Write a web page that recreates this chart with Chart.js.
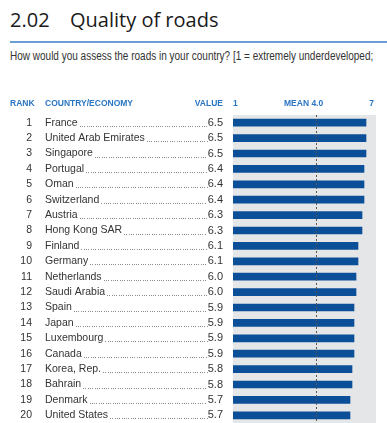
<!DOCTYPE html>
<html>
<head>
<meta charset="utf-8">
<script src="https://cdn.jsdelivr.net/npm/chart.js@4/dist/chart.umd.min.js"></script>
<style>
  body { margin: 0; background: #fff; width: 387px; height: 423px; overflow: hidden; position: relative; }
  #title { position: absolute; left: 10px; top: 6px; font-family: 'Open Sans', sans-serif; font-size: 20px; color: #1a1a1a; white-space: nowrap; }
  #title .num { display: inline-block; width: 60px; }
  #rule { position: absolute; left: 10px; right: 0; top: 41px; height: 2px; background: #6b9fd4; }
  #subtitle { position: absolute; left: 10px; top: 49px; font-family: 'Liberation Sans', sans-serif; font-size: 12.5px; color: #333;
              white-space: nowrap; transform: scaleX(0.8); transform-origin: 0 0; }
  #wrap { position: absolute; left: 0; top: 95px; width: 387px; height: 328px; }
</style>
</head>
<body>
<div id="title"><span class="num">2.02</span>Quality of roads</div>
<div id="rule"></div>
<div id="subtitle">How would you assess the roads in your country? [1 = extremely underdeveloped;</div>
<div id="wrap"><canvas id="chart" width="387" height="328"></canvas></div>
<script>
// data
const ranks = [1, 2, 3, 4, 5, 6, 7, 8, 9, 10, 11, 12, 13, 14, 15, 16, 17, 18, 19, 20];
const countries = ['France', 'United Arab Emirates', 'Singapore', 'Portugal', 'Oman', 'Switzerland',
    'Austria', 'Hong Kong SAR', 'Finland', 'Germany', 'Netherlands', 'Saudi Arabia', 'Spain', 'Japan',
    'Luxembourg', 'Canada', 'Korea, Rep.', 'Bahrain', 'Denmark', 'United States'];
const values = [6.5, 6.5, 6.5, 6.4, 6.4, 6.4, 6.3, 6.3, 6.1, 6.1, 6.0, 6.0, 5.9, 5.9, 5.9, 5.9, 5.8, 5.8, 5.7, 5.7];
const meanValue = 4.0;
const headerLabels = ['RANK', 'COUNTRY/ECONOMY', 'VALUE', '1', 'MEAN 4.0', '7'];

const blue = '#0b4f99';
const headBlue = '#2a76c2';
const panelGray = '#e5e6e8';

// gray panel behind the bars
const panelPlugin = {
    id: 'panel',
    beforeDatasetsDraw(chart) {
        const { ctx, chartArea } = chart;
        ctx.save();
        ctx.fillStyle = panelGray;
        ctx.fillRect(chartArea.left, chartArea.top, chartArea.right - chartArea.left, chartArea.bottom - chartArea.top);
        ctx.restore();
    }
};

// dotted mean line over the bars
const meanPlugin = {
    id: 'meanLine',
    afterDatasetsDraw(chart) {
        const { ctx, chartArea, scales } = chart;
        const x = Math.round(scales.x.getPixelForValue(meanValue)) + 0.5;
        ctx.save();
        ctx.strokeStyle = '#555';
        ctx.lineWidth = 1;
        ctx.setLineDash([2, 2]);
        ctx.beginPath();
        ctx.moveTo(x, chartArea.top);
        ctx.lineTo(x, chartArea.bottom);
        ctx.stroke();
        ctx.restore();
    }
};

// header row + rank / name / dotted leader / value per row
const labelPlugin = {
    id: 'rowLabels',
    afterDraw(chart) {
        const { ctx, scales } = chart;
        ctx.save();

        ctx.font = 'bold 8.5px "Liberation Sans", sans-serif';
        ctx.fillStyle = headBlue;
        ctx.textBaseline = 'middle';
        const hy = 9;
        ctx.textAlign = 'left';
        ctx.fillText(headerLabels[0], 10, hy);
        ctx.fillText(headerLabels[1], 45, hy);
        ctx.textAlign = 'right';
        ctx.fillText(headerLabels[2], 223, hy);
        ctx.textAlign = 'left';
        ctx.fillText(headerLabels[3], 233, hy);
        ctx.fillText(headerLabels[4], 284, hy);
        ctx.textAlign = 'right';
        ctx.fillText(headerLabels[5], 374, hy);

        ctx.fillStyle = '#333';
        countries.forEach((name, i) => {
            const y = scales.y.getPixelForValue(i);
            ctx.font = '10.5px "Liberation Sans", sans-serif';
            ctx.textAlign = 'right';
            ctx.fillText(String(ranks[i]), 32, y);
            ctx.textAlign = 'left';
            ctx.fillText(name, 45, y);
            const nameEnd = 45 + ctx.measureText(name).width;
            ctx.font = '11px "Liberation Sans", sans-serif';
            ctx.textAlign = 'right';
            const valStr = values[i].toFixed(1);
            ctx.fillText(valStr, 223, y);
            const valStart = 223 - ctx.measureText(valStr).width;
            // leader dots
            ctx.fillStyle = '#8a8a8a';
            const dy = Math.round(y + 3);
            for (let x = nameEnd + 2; x < valStart - 1; x += 2.3) {
                ctx.fillRect(Math.round(x), dy, 1, 1);
            }
            ctx.fillStyle = '#333';
        });
        ctx.restore();
    }
};

new Chart(document.getElementById('chart'), {
    type: 'bar',
    data: {
        labels: countries,
        datasets: [{
            data: values,
            backgroundColor: blue,
            borderWidth: 0,
            barThickness: 7,
            base: -0.15
        }]
    },
    options: {
        indexAxis: 'y',
        responsive: false,
        animation: false,
        events: [],
        layout: { padding: { left: 233, right: 11, top: 20, bottom: 0 } },
        plugins: { legend: { display: false }, tooltip: { enabled: false } },
        scales: {
            x: { display: false, min: -0.15, max: 7 },
            y: { display: false, offset: true }
        }
    },
    plugins: [panelPlugin, meanPlugin, labelPlugin]
});
</script>
</body>
</html>
